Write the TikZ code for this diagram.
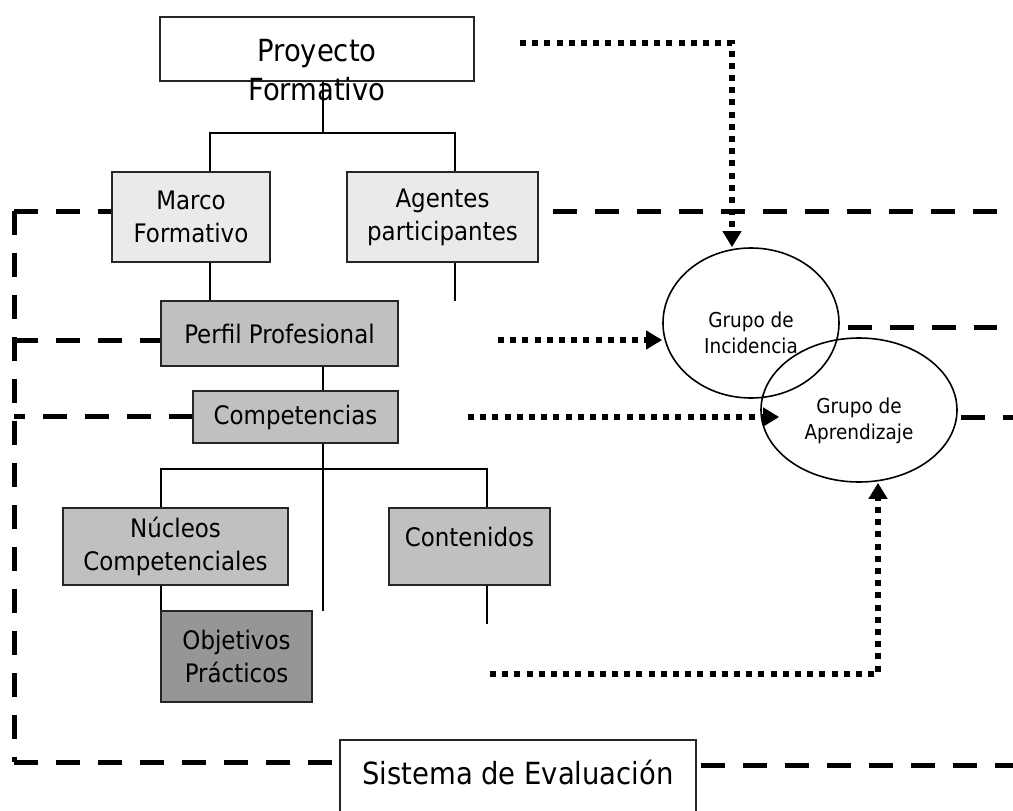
\documentclass[tikz,border=0pt]{standalone}
\usepackage{fontspec}
\setmainfont{DejaVu Sans Condensed}
\usetikzlibrary{arrows.meta,calc,shapes.geometric}
\definecolor{lightg}{HTML}{EAEAEA}
\definecolor{midg}{HTML}{C0C0C0}
\definecolor{darkg}{HTML}{969696}
\begin{document}
\begin{tikzpicture}[x=1pt,y=-1pt,
  box/.style={draw=black!85, line width=1.6pt, rectangle, inner sep=0pt, align=center,
    font=\fontsize{25.5}{33}\selectfont},
  lightbox/.style={box, fill=lightg},
  midbox/.style={box, fill=midg},
  darkbox/.style={box, fill=darkg},
  whitebox/.style={box, fill=white},
  bigtext/.style={inner sep=0pt, align=center, font=\fontsize{30.5}{39}\selectfont},
  boxtext/.style={inner sep=0pt, align=center, font=\fontsize{25.5}{33}\selectfont},
  grouptext/.style={inner sep=0pt, align=center, font=\fontsize{20.5}{26}\selectfont},
  grp/.style={draw=black, line width=1.6pt, ellipse, inner sep=0pt},
  conn/.style={line width=1.6pt, draw=black},
  bdash/.style={line width=5pt, dash pattern=on 24pt off 18pt},
  dotarrow/.style={line width=5.7pt, dash pattern=on 6pt off 6.2pt,
    -{Triangle[width=18pt,length=16pt]}},
  dotline/.style={line width=5.7pt, dash pattern=on 6pt off 6.2pt}
]
\useasboundingbox (0,0) rectangle (1013,811);

% boxes
\node[whitebox, minimum width=314pt, minimum height=64pt] (proy) at (317,49) {};
\node[bigtext] (proyT) at (317,70) {Proyecto\\Formativo};
\node[lightbox, minimum width=158pt, minimum height=90pt] (marco) at (191,217) {Marco\\Formativo};
\node[lightbox, minimum width=191pt, minimum height=90pt] (agentes) at (442.5,217) {Agentes\\participantes};
\node[midbox, minimum width=237pt, minimum height=65pt] (perfil) at (279.5,333.5) {Perfil Profesional};
\node[midbox, minimum width=205pt, minimum height=52pt] (comp) at (295.5,417) {Competencias};
\node[midbox, minimum width=225pt, minimum height=77pt] (nucleos) at (175.5,546.5) {Núcleos\\Competenciales};
\node[midbox, minimum width=161pt, minimum height=77pt] (cont) at (469.5,546.5) {};
\node[boxtext] (contT) at (469.5,537) {Contenidos};
\node[darkbox, minimum width=151pt, minimum height=91pt] (obj) at (236.5,656.5) {Objetivos\\Prácticos};
\node[whitebox, minimum width=356pt, minimum height=110pt] (sis) at (518,795) {};
\node[bigtext] (sisT) at (518,773) {Sistema de Evaluación};

% groups
\node[grp, minimum width=176pt, minimum height=150pt] (inc) at (751,323) {};
\node[grouptext] (incT) at (751,333) {Grupo de\\Incidencia};
\node[grp, minimum width=196pt, minimum height=144pt] (apr) at (859,410) {};
\node[grouptext] (aprT) at (859,421) {Grupo de\\Aprendizaje};

% tree connectors
\coordinate (t1) at (323,133);
\coordinate (t1l) at (210,133);
\coordinate (t1r) at (455,133);
\draw[conn] (proy.south -| t1) -- (t1);
\draw[conn] (marco.north -| t1l) |- (t1r) -- (agentes.north -| t1r);
\draw[conn] (marco.south -| t1l) -- (perfil.north -| t1l);
\coordinate (ag) at (455,301);
\draw[conn] (agentes.south -| ag) -- (ag);
\draw[conn] (perfil.south -| t1) -- (comp.north -| t1);
\coordinate (t2) at (323,469);
\coordinate (t2l) at (161,469);
\coordinate (t2r) at (487,469);
\coordinate (t2e) at (323,611);
\draw[conn] (comp.south -| t2) -- (t2e);
\draw[conn] (nucleos.north -| t2l) |- (t2r) -- (cont.north -| t2r);
\draw[conn] (nucleos.south -| t2l) -- (obj.north -| t2l);
\coordinate (ce) at (487,624);
\draw[conn] (cont.south -| ce) -- (ce);

% thick dashed frame
\coordinate (L1) at (14,211);
\coordinate (L2) at (14,340);
\coordinate (L3) at (14,416);
\coordinate (L4) at (14,762);
\draw[bdash] (L1) -- (L1 -| marco.west);
\draw[bdash] (L1) -- (L4);
\draw[bdash] (L4) -- (L4 -| sis.west);
\draw[bdash] (L2) -- (L2 -| perfil.west);
\draw[bdash, dash phase=13pt] (L3) -- (L3 -| comp.west);
\coordinate (R1) at (997,211);
\coordinate (R2) at (997,327);
\coordinate (R3) at (1013,417);
\coordinate (R4) at (1013,765);
\draw[bdash] ($(agentes.east |- R1)+(14,0)$) -- (R1);
\draw[bdash] ($(inc.east |- R2)+(8,0)$) -- (R2);
\draw[bdash] ($(apr.east |- R3)+(3,0)$) -- (R3);
\draw[bdash] ($(sis.east |- R4)+(4,0)$) -- (R4);

% dotted arrows
\coordinate (d1s) at (520,43);
\coordinate (d1c) at (732,43);
\draw[dotarrow] (d1s) -- (d1c) -- (d1c |- inc.north);
\coordinate (d2s) at (498,340);
\draw[dotarrow] (d2s) -- (d2s -| inc.west);
\coordinate (d3s) at (468,417);
\draw[dotarrow] (d3s) -- ($(d3s -| apr.west)+(19,0)$);
\coordinate (d4s) at (490,674);
\coordinate (d4c) at (878,674);
\draw[dotarrow] (d4s) -- (d4c) -- (d4c |- apr.south);
\end{tikzpicture}
\end{document}
